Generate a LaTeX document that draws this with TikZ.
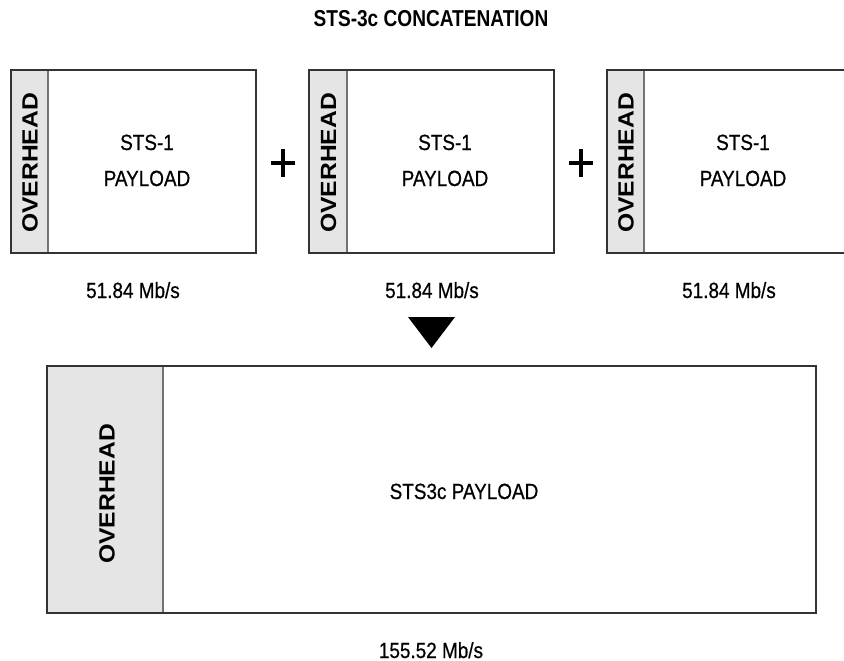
\documentclass[tikz,border=0pt]{standalone}
\usepackage{fontspec}
\setmainfont{Liberation Sans}
\newfontfamily\narrowfont[FakeStretch=0.86,FakeBold=0.6]{Liberation Sans}
\newfontfamily\titlefont[FakeStretch=0.83]{Liberation Sans}
\newfontfamily\widefont[FakeStretch=1.12]{Liberation Sans}
\begin{document}
\begin{tikzpicture}[x=1pt,y=-1pt,
  frame/.style={draw=black!80, line width=1.2pt},
  ohbox/.style={fill=black!10, draw=none},
  sepline/.style={draw=black!55, line width=1.2pt},
  lbl/.style={font=\narrowfont\fontsize{22}{26}\selectfont, anchor=base, inner sep=0pt},
  ttl/.style={font=\titlefont\bfseries\fontsize{23}{27}\selectfont, anchor=base, inner sep=0pt},
  oh/.style={font=\widefont\bfseries\fontsize{22}{26}\selectfont, rotate=90, inner sep=0pt},
  plusbar/.style={line width=3.6pt, draw=black}
  ]
\useasboundingbox (0,0) rectangle (844,661);
\clip (0,0) rectangle (844,661);

% title
\node[ttl] (title) at (431,27) {STS-3c CONCATENATION};

% three STS-1 frames
\foreach \i/\l/\s/\r/\c/\rate in {1/11/48/256/147/133, 2/309/347/554/445/432, 3/607/644/852/743/729}{
  \fill[ohbox] (\l,70) rectangle (\s,253);
  \draw[sepline] (\s,70) -- (\s,253);
  \draw[frame] (\l,70) rectangle (\r,253);
  \node[oh] (oh\i) at ({(\l+\s)/2+0.5},163) {OVERHEAD};
  \node[lbl] (sts\i) at (\c,150) {STS-1};
  \node[lbl] (pay\i) at (\c,186) {PAYLOAD};
  \node[lbl] (rate\i) at (\rate,298) {51.84 Mb/s};
}

% plus signs
\draw[plusbar] (271,163) -- (295,163) (283,149) -- (283,177);
\draw[plusbar] (569,163) -- (593,163) (581,149) -- (581,177);

% arrow triangle
\fill[black] (408,317) -- (455,317) -- (431.5,348) -- cycle;

% STS-3c frame
\fill[ohbox] (47,366) rectangle (163,613);
\draw[sepline] (163,366) -- (163,613);
\draw[frame] (47,366) rectangle (816,613);
\node[oh] (ohbig) at (107,494) {OVERHEAD};
\node[lbl] (paybig) at (464,499) {STS3c PAYLOAD};
\node[lbl] (ratebig) at (431,658) {155.52 Mb/s};
\end{tikzpicture}
\end{document}
